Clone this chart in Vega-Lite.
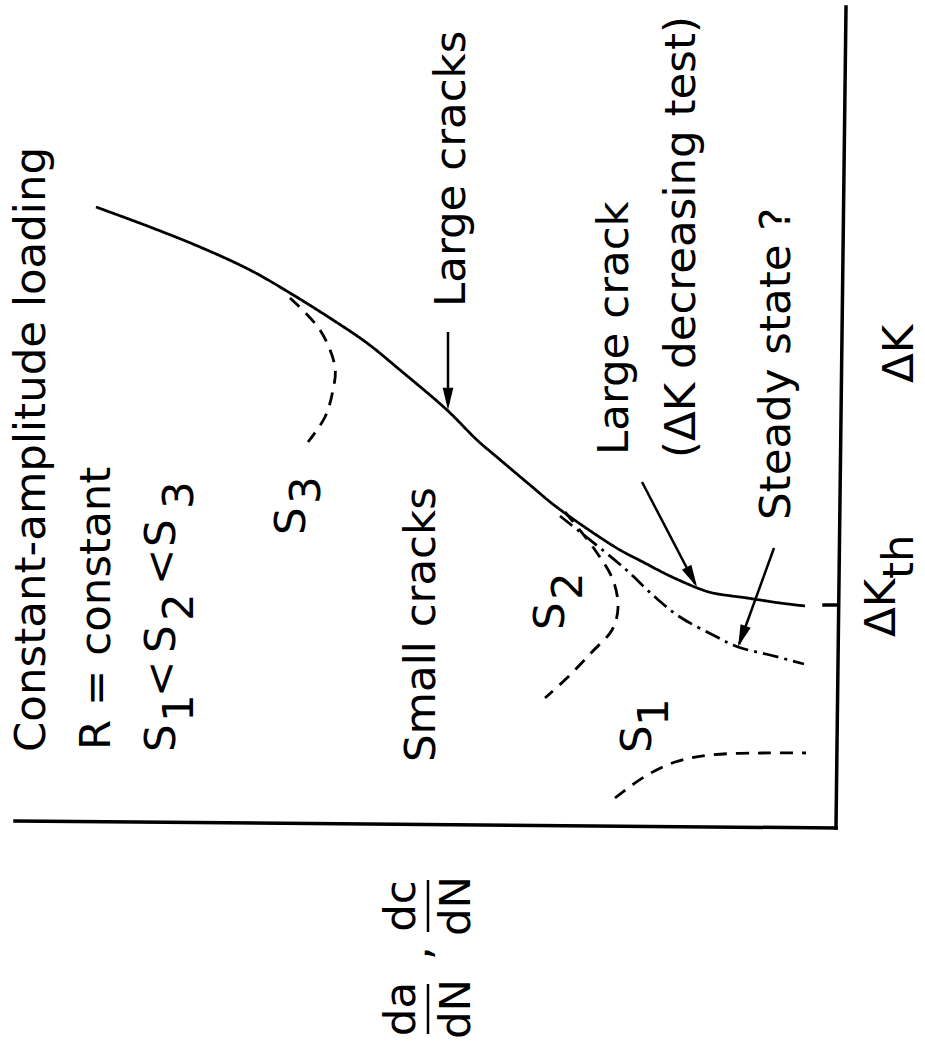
{
  "$schema": "https://vega.github.io/schema/vega-lite/v6.json",
  "width": 925,
  "height": 1042,
  "autosize": {"type": "none"},
  "padding": 0,
  "background": "white",
  "config": {"view": {"stroke": null}},
  "datasets": {
    "curves": [
      {"curve": "large", "seq": 1, "u": 92.5, "v": 77.625},
      {"curve": "large", "seq": 2, "u": 85.75, "v": 75.125},
      {"curve": "large", "seq": 3, "u": 79.5, "v": 72.625},
      {"curve": "large", "seq": 4, "u": 73.25, "v": 69.75},
      {"curve": "large", "seq": 5, "u": 68.25, "v": 66.875},
      {"curve": "large", "seq": 6, "u": 62.875, "v": 63.5},
      {"curve": "large", "seq": 7, "u": 58.625, "v": 60.625},
      {"curve": "large", "seq": 8, "u": 54.5, "v": 57.25},
      {"curve": "large", "seq": 9, "u": 48.625, "v": 52.25},
      {"curve": "large", "seq": 10, "u": 44.875, "v": 48.5},
      {"curve": "large", "seq": 11, "u": 42.25, "v": 46.25},
      {"curve": "large", "seq": 12, "u": 38.25, "v": 42.875},
      {"curve": "large", "seq": 13, "u": 35.25, "v": 40.375},
      {"curve": "large", "seq": 14, "u": 30.875, "v": 37.25},
      {"curve": "large", "seq": 15, "u": 27, "v": 34.75},
      {"curve": "large", "seq": 16, "u": 24.375, "v": 33.375},
      {"curve": "large", "seq": 17, "u": 20.75, "v": 31.5},
      {"curve": "large", "seq": 18, "u": 17, "v": 29.875},
      {"curve": "large", "seq": 19, "u": 15.375, "v": 29.375},
      {"curve": "large", "seq": 20, "u": 11.125, "v": 28.75},
      {"curve": "large", "seq": 21, "u": 7, "v": 28.125},
      {"curve": "large", "seq": 22, "u": 3.875, "v": 27.75},
      {"curve": "steady", "seq": 1, "u": 34.5, "v": 39},
      {"curve": "steady", "seq": 2, "u": 26.625, "v": 32.625},
      {"curve": "steady", "seq": 3, "u": 22.625, "v": 28.875},
      {"curve": "steady", "seq": 4, "u": 19.5, "v": 26.375},
      {"curve": "steady", "seq": 5, "u": 15.375, "v": 24.125},
      {"curve": "steady", "seq": 6, "u": 12.25, "v": 22.625},
      {"curve": "steady", "seq": 7, "u": 8.25, "v": 21.625},
      {"curve": "steady", "seq": 8, "u": 4, "v": 20.5},
      {"curve": "S2", "seq": 1, "u": 33.875, "v": 39.5},
      {"curve": "S2", "seq": 2, "u": 30.125, "v": 34.75},
      {"curve": "S2", "seq": 3, "u": 27.875, "v": 31},
      {"curve": "S2", "seq": 4, "u": 27.25, "v": 27.5},
      {"curve": "S2", "seq": 5, "u": 28, "v": 24.75},
      {"curve": "S2", "seq": 6, "u": 30.5, "v": 22},
      {"curve": "S2", "seq": 7, "u": 33.5, "v": 18.875},
      {"curve": "S2", "seq": 8, "u": 36.375, "v": 16.25},
      {"curve": "S3", "seq": 1, "u": 68.25, "v": 66.25},
      {"curve": "S3", "seq": 2, "u": 64.5, "v": 62.25},
      {"curve": "S3", "seq": 3, "u": 62.625, "v": 57.625},
      {"curve": "S3", "seq": 4, "u": 62.875, "v": 54.75},
      {"curve": "S3", "seq": 5, "u": 63.875, "v": 51.375},
      {"curve": "S3", "seq": 6, "u": 66, "v": 48.25},
      {"curve": "S1", "seq": 1, "u": 27.625, "v": 3.75},
      {"curve": "S1", "seq": 2, "u": 24, "v": 6.375},
      {"curve": "S1", "seq": 3, "u": 20.125, "v": 8.25},
      {"curve": "S1", "seq": 4, "u": 15.75, "v": 9.125},
      {"curve": "S1", "seq": 5, "u": 9.25, "v": 9.375},
      {"curve": "S1", "seq": 6, "u": 3.75, "v": 9.375}
    ],
    "axes": [
      {"u": -1.25, "v": 102.625, "u2": 0, "v2": 0},
      {"u": 102.625, "v": 0.875, "u2": 0, "v2": 0},
      {"u": 1.5, "v": 27.875, "u2": 0, "v2": 27.875}
    ],
    "strokes": [
      {"u": 48.5, "v": 62, "u2": 48.5, "v2": 53},
      {"u": 24.25, "v": 43.25, "u2": 17.6, "v2": 30.5},
      {"u": 7.75, "v": 35, "u2": 12.1, "v2": 23},
      {"u": 51, "v": -6.5, "u2": 51, "v2": -13},
      {"u": 51, "v": -19.5, "u2": 51, "v2": -25.75}
    ],
    "heads": [
      {"u": 48.5, "v": 52.25, "dir": 0},
      {"u": 17.375, "v": 30.125, "dir": -27.6},
      {"u": 12.25, "v": 22.625, "dir": 20}
    ],
    "labels": [
      {"label": "Constant-amplitude loading", "u": 98.875, "v": 9.5},
      {"label": "R = constant", "u": 90.75, "v": 9.75},
      {"label": "S", "u": 82.625, "v": 9.5},
      {"label": "1", "u": 80.375, "v": 13.25},
      {"label": "<", "u": 82.625, "v": 16.375},
      {"label": "S", "u": 82.625, "v": 21.875},
      {"label": "2", "u": 80.375, "v": 25.875},
      {"label": "<", "u": 82.625, "v": 30.375},
      {"label": "S", "u": 82.625, "v": 35.125},
      {"label": "3", "u": 80.375, "v": 39.875},
      {"label": "Small cracks", "u": 50.125, "v": 8.25},
      {"label": "S", "u": 66.375, "v": 36.625},
      {"label": "3", "u": 64.5, "v": 40.5},
      {"label": "Large cracks", "u": 46.375, "v": 65.125},
      {"label": "Large crack", "u": 26, "v": 46.625},
      {"label": "(ΔK decreasing test)", "u": 17.625, "v": 46.25},
      {"label": "Steady state ?", "u": 5.75, "v": 38.5},
      {"label": "S", "u": 34, "v": 24.75},
      {"label": "2", "u": 31.75, "v": 28.5},
      {"label": "S", "u": 23.125, "v": 9.375},
      {"label": "1", "u": 21, "v": 12.75},
      {"label": "ΔK", "u": -9.625, "v": 55.625},
      {"label": "ΔK", "u": -7.375, "v": 23.875},
      {"label": "th", "u": -9.625, "v": 31.125}
    ],
    "fraction": [
      {"label": "dc", "u": 52.625, "v": -9.75},
      {"label": "dN", "u": 45.75, "v": -9.75},
      {"label": ",", "u": 50.75, "v": -15.625},
      {"label": "da", "u": 52.625, "v": -22.625},
      {"label": "dN", "u": 45.75, "v": -22.625}
    ]
  },
  "encoding": {
    "x": {"field": "u", "type": "quantitative", "scale": {"domain": [-11.125, 104.5], "reverse": true, "zero": false, "nice": false}, "axis": null},
    "y": {"field": "v", "type": "quantitative", "scale": {"domain": [-26.75, 103.5], "zero": false, "nice": false}, "axis": null}
  },
  "layer": [
    {
      "data": {"name": "axes"},
      "mark": {"type": "rule", "color": "black", "strokeWidth": 3.5, "strokeCap": "square"},
      "encoding": {"x2": {"field": "u2"}, "y2": {"field": "v2"}}
    },
    {
      "data": {"name": "strokes"},
      "mark": {"type": "rule", "color": "black", "strokeWidth": 2.5},
      "encoding": {"x2": {"field": "u2"}, "y2": {"field": "v2"}}
    },
    {
      "data": {"name": "heads"},
      "mark": {"type": "point", "shape": "M0,0L-0.24,-1L0.24,-1Z", "filled": true, "color": "black", "size": 2000, "opacity": 1, "strokeWidth": 0},
      "encoding": {"angle": {"field": "dir", "type": "quantitative", "scale": null}}
    },
    {
      "data": {"name": "curves"},
      "mark": {"type": "line", "color": "black", "strokeWidth": 2.8, "interpolate": "catmull-rom"},
      "encoding": {
        "order": {"field": "seq", "type": "quantitative"},
        "strokeDash": {"field": "curve", "type": "nominal", "legend": null,
          "scale": {"domain": ["large", "steady", "S1", "S2", "S3"], "range": [[1, 0], [16, 6, 3, 6], [13, 9], [13, 9], [13, 9]]}}
      }
    },
    {
      "data": {"name": "labels"},
      "mark": {"type": "text", "angle": 270, "align": "left", "baseline": "alphabetic", "font": "DejaVu Sans", "fontSize": 43.5, "color": "black"},
      "encoding": {"text": {"field": "label"}}
    },
    {
      "data": {"name": "fraction"},
      "mark": {"type": "text", "angle": 270, "align": "center", "baseline": "alphabetic", "font": "DejaVu Sans", "fontSize": 43.5, "color": "black"},
      "encoding": {"text": {"field": "label"}}
    }
  ]
}
